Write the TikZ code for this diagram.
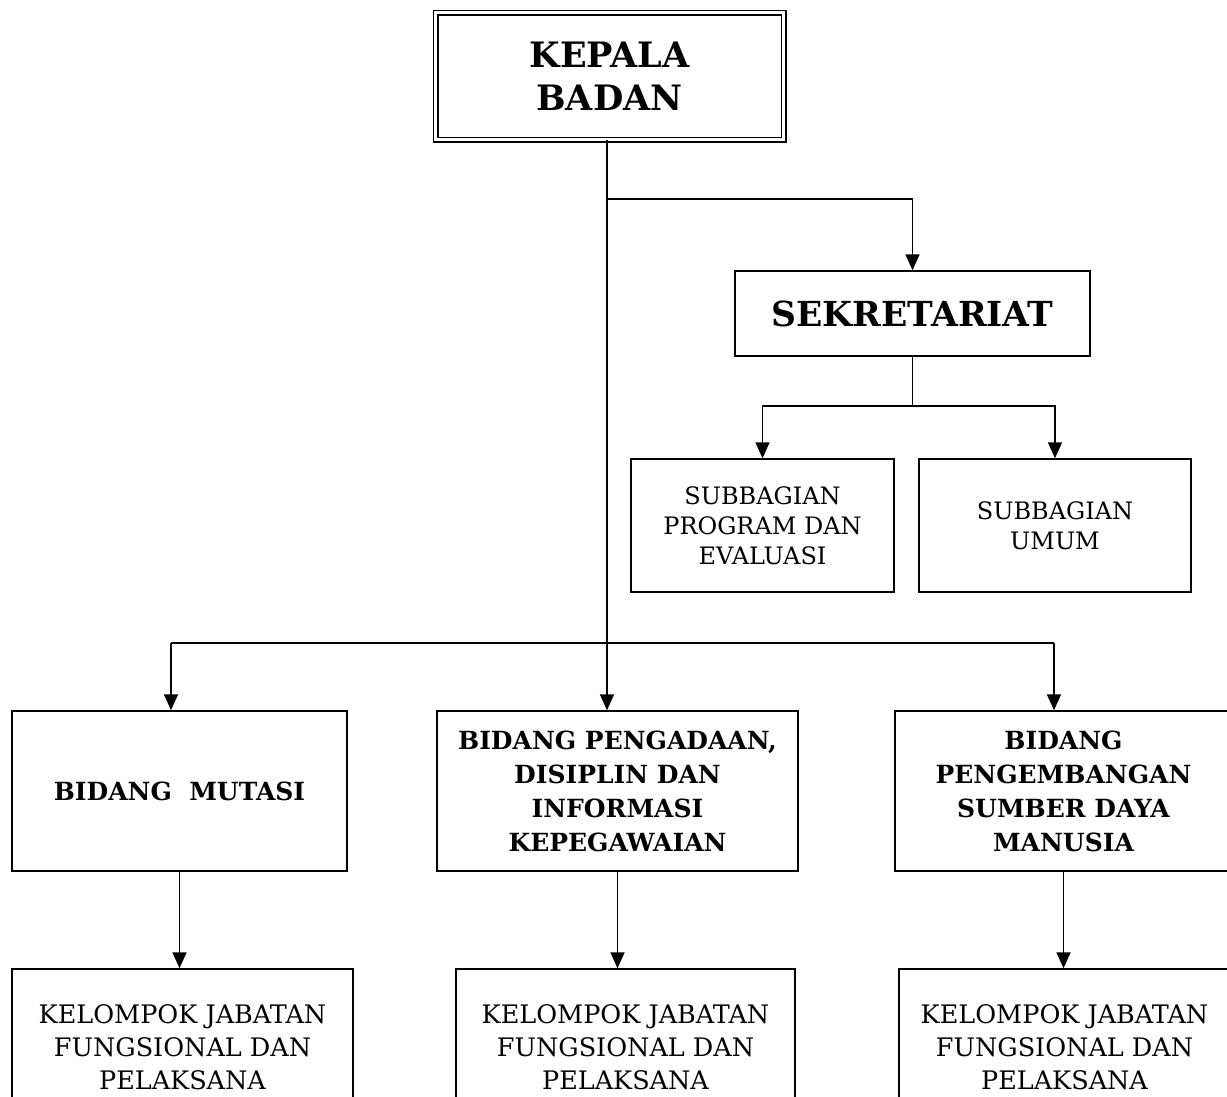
\documentclass[tikz,border=0pt]{standalone}
\usepackage{fontspec}
\setmainfont{DejaVu Serif}
\usetikzlibrary{arrows.meta}
\tikzset{unitbox/.style={draw,rectangle,line width=1.5pt,align=center,inner sep=0pt},
         headbox/.style={unitbox,double,double distance=3.4pt,line width=1.3pt,
                         font=\bfseries\fontsize{35}{43}\selectfont},
         sekbox/.style={unitbox,font=\bfseries\fontsize{34.5}{36}\selectfont},
         subbox/.style={unitbox,font=\fontsize{24}{30}\selectfont},
         bidbox/.style={unitbox,font=\bfseries\fontsize{25}{34}\selectfont},
         kelbox/.style={unitbox,font=\fontsize{25.5}{33}\selectfont},
         link/.style={draw,line width=1.7pt},
         arrow/.style={link,-{Triangle[length=16pt,width=14pt]}}}

\begin{document}
\begin{tikzpicture}[x=1pt,y=-1pt]
  \useasboundingbox[fill=white] (0,0) rectangle (1227,1096);

  % top
  \node[headbox,minimum width=348pt,minimum height=127pt] (kepala) at (609.5,76) {KEPALA\\BADAN};

  % secretariat and its subsections
  \node[sekbox,minimum width=355pt,minimum height=85pt] (sekretariat) at (912.5,313.5) {SEKRETARIAT};
  \node[subbox,minimum width=263pt,minimum height=133pt] (subprogram) at (762.5,525.5)
      {SUBBAGIAN\\PROGRAM DAN\\EVALUASI};
  \node[subbox,minimum width=272pt,minimum height=133pt] (subumum) at (1055,525.5)
      {SUBBAGIAN\\UMUM};

  % fields
  \node[bidbox,minimum width=335pt,minimum height=160pt] (mutasi) at (179.5,791) {BIDANG \ MUTASI};
  \node[bidbox,minimum width=361pt,minimum height=160pt] (pengadaan) at (617.5,791)
      {BIDANG PENGADAAN,\\DISIPLIN DAN\\INFORMASI\\KEPEGAWAIAN};
  \node[bidbox,minimum width=337pt,minimum height=160pt] (pengembangan) at (1063.5,791)
      {BIDANG\\PENGEMBANGAN\\SUMBER DAYA\\MANUSIA};

  % functional groups
  \node[kelbox,minimum width=341pt,minimum height=156pt] (kelompokA) at (182.5,1047)
      {KELOMPOK JABATAN\\FUNGSIONAL DAN\\PELAKSANA};
  \node[kelbox,minimum width=339pt,minimum height=156pt] (kelompokB) at (625.5,1047)
      {KELOMPOK JABATAN\\FUNGSIONAL DAN\\PELAKSANA};
  \node[kelbox,minimum width=331pt,minimum height=156pt] (kelompokC) at (1064.5,1047)
      {KELOMPOK JABATAN\\FUNGSIONAL DAN\\PELAKSANA};

  % branch points
  \coordinate (split) at (607,199);
  \coordinate (sekdown) at (912.5,406);
  \coordinate (leftend) at (171,643);
  \coordinate (rightend) at (1054,643);

  \draw[arrow] (split |- kepala.south) -- (split |- pengadaan.north);
  \draw[arrow] (split) -| (sekretariat.north);
  \draw[link] (sekretariat.south) -- (sekdown);
  \draw[arrow] (sekdown) -| (subprogram.north);
  \draw[arrow] (sekdown) -| (subumum.north);
  \draw[link] (leftend) -- (rightend);
  \draw[arrow] (leftend) -- (leftend |- mutasi.north);
  \draw[arrow] (rightend) -- (rightend |- pengembangan.north);
  \draw[arrow] (mutasi.south) -- (kelompokA.north -| mutasi.south);
  \draw[arrow] (pengadaan.south) -- (kelompokB.north -| pengadaan.south);
  \draw[arrow] (pengembangan.south) -- (kelompokC.north -| pengembangan.south);
\end{tikzpicture}
\end{document}
